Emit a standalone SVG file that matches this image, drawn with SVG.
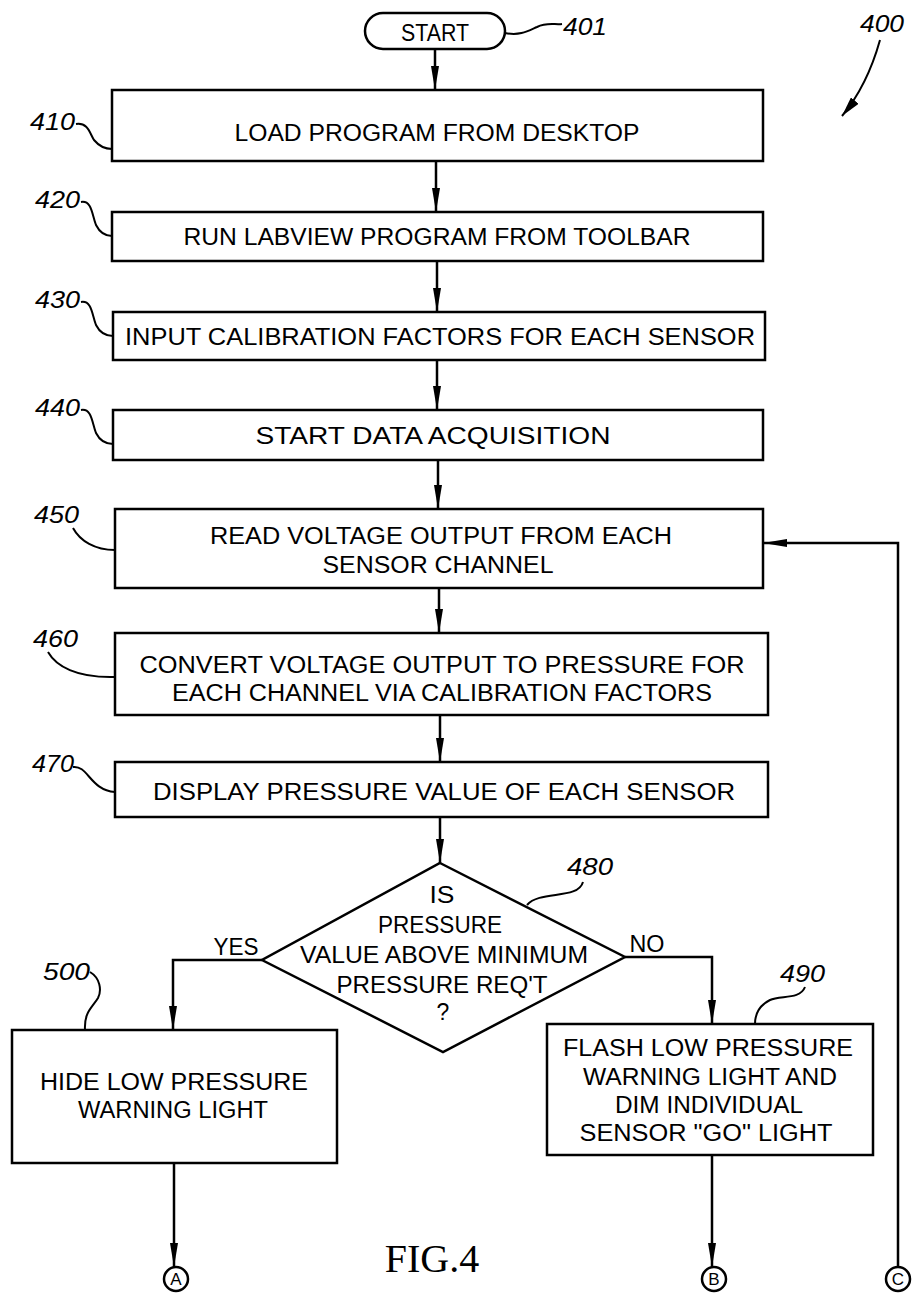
<svg xmlns="http://www.w3.org/2000/svg" width="921" height="1293" viewBox="0 0 921 1293">
<style>
.box{fill:none;stroke:#000;stroke-width:2.5}
.t{font-family:"Liberation Sans",Arial,sans-serif;font-size:23px;fill:#000;text-anchor:middle}
.lbl{font-family:"Liberation Sans",Arial,sans-serif;font-size:24px;font-style:italic;fill:#000}
.ld{fill:none;stroke:#000;stroke-width:2}
.c{fill:none;stroke:#000;stroke-width:2.5}
.cl{font-family:"Liberation Sans",Arial,sans-serif;font-size:17px;fill:#000;text-anchor:middle}
</style>
<defs>
<marker id="ah" viewBox="0 0 24 8" refX="24" refY="4" markerWidth="24" markerHeight="8" markerUnits="userSpaceOnUse" orient="auto">
<path d="M0,0 L24,4 L0,8 z" fill="#000"/>
</marker>
<marker id="ah2" viewBox="0 0 20 10" refX="20" refY="5" markerWidth="20" markerHeight="10" markerUnits="userSpaceOnUse" orient="auto">
<path d="M0,0 L20,5 L0,10 z" fill="#000"/>
</marker>
</defs>
<rect width="921" height="1293" fill="#fff"/>

<g id="n401">
<rect class="box" x="365" y="13" width="140" height="36" rx="18"/>
<text class="t" x="435" y="41" textLength="68" lengthAdjust="spacingAndGlyphs">START</text>
<path class="ld" d="M505,33 C520,36 528,31 537,27 C547,22 555,25 562,24"/>
<text class="lbl" x="563" y="35" textLength="44" lengthAdjust="spacingAndGlyphs">401</text>
</g>

<g id="n400">
<text class="lbl" x="860" y="32" textLength="44" lengthAdjust="spacingAndGlyphs">400</text>
<path class="ld" d="M880,40 C873,65 862,92 842,116" marker-end="url(#ah2)"/>
</g>

<g id="n410">
<rect class="box" x="112" y="90" width="651" height="71"/>
<text class="t" x="437" y="141" textLength="405" lengthAdjust="spacingAndGlyphs">LOAD PROGRAM FROM DESKTOP</text>
<text class="lbl" x="30" y="130" textLength="45" lengthAdjust="spacingAndGlyphs">410</text>
<path class="ld" d="M76,124 C88,122 90,134 94,140 C99,146 104,149 112,149"/>
</g>

<g id="n420">
<rect class="box" x="112" y="212" width="651" height="49"/>
<text class="t" x="437" y="245" textLength="507" lengthAdjust="spacingAndGlyphs">RUN LABVIEW PROGRAM FROM TOOLBAR</text>
<text class="lbl" x="35" y="208" textLength="45" lengthAdjust="spacingAndGlyphs">420</text>
<path class="ld" d="M81,202 C92,200 92,215 96,225 C100,233 105,236 112,236"/>
</g>

<g id="n430">
<rect class="box" x="113" y="312" width="652" height="48"/>
<text class="t" x="440" y="345" textLength="630" lengthAdjust="spacingAndGlyphs">INPUT CALIBRATION FACTORS FOR EACH SENSOR</text>
<text class="lbl" x="35" y="308" textLength="45" lengthAdjust="spacingAndGlyphs">430</text>
<path class="ld" d="M81,302 C92,300 92,315 96,325 C100,333 105,336 113,336"/>
</g>

<g id="n440">
<rect class="box" x="113" y="410" width="650" height="50"/>
<text class="t" x="433" y="444" textLength="355" lengthAdjust="spacingAndGlyphs">START DATA ACQUISITION</text>
<text class="lbl" x="35" y="416" textLength="45" lengthAdjust="spacingAndGlyphs">440</text>
<path class="ld" d="M81,410 C92,408 92,423 96,433 C100,441 105,444 113,444"/>
</g>

<g id="n450">
<rect class="box" x="115" y="509" width="648" height="79"/>
<text class="t" x="441" y="544" textLength="462" lengthAdjust="spacingAndGlyphs">READ VOLTAGE OUTPUT FROM EACH</text>
<text class="t" x="438" y="573" textLength="231" lengthAdjust="spacingAndGlyphs">SENSOR CHANNEL</text>
<text class="lbl" x="34" y="523" textLength="45" lengthAdjust="spacingAndGlyphs">450</text>
<path class="ld" d="M73,528 C80,541 95,550 115,550"/>
</g>

<g id="n460">
<rect class="box" x="115" y="633" width="653" height="82"/>
<text class="t" x="442" y="673" textLength="605" lengthAdjust="spacingAndGlyphs">CONVERT VOLTAGE OUTPUT TO PRESSURE FOR</text>
<text class="t" x="442" y="701" textLength="540" lengthAdjust="spacingAndGlyphs">EACH CHANNEL VIA CALIBRATION FACTORS</text>
<text class="lbl" x="33" y="647" textLength="45" lengthAdjust="spacingAndGlyphs">460</text>
<path class="ld" d="M48,652 C56,666 76,678 115,677"/>
</g>

<g id="n470">
<rect class="box" x="115" y="762" width="653" height="55"/>
<text class="t" x="444" y="800" textLength="582" lengthAdjust="spacingAndGlyphs">DISPLAY PRESSURE VALUE OF EACH SENSOR</text>
<text class="lbl" x="32" y="772" textLength="42" lengthAdjust="spacingAndGlyphs">470</text>
<path class="ld" d="M73,767 C88,765 90,790 115,792"/>
</g>

<g id="n480">
<polygon class="box" points="440,863 625,957 443,1052 262,960"/>
<text class="t" x="442" y="903" textLength="25" lengthAdjust="spacingAndGlyphs">IS</text>
<text class="t" x="440" y="933" textLength="124" lengthAdjust="spacingAndGlyphs">PRESSURE</text>
<text class="t" x="444" y="963" textLength="288" lengthAdjust="spacingAndGlyphs">VALUE ABOVE MINIMUM</text>
<text class="t" x="442" y="993" textLength="211" lengthAdjust="spacingAndGlyphs">PRESSURE REQ'T</text>
<text class="t" x="443" y="1020">?</text>
<text class="lbl" x="567" y="875" textLength="46" lengthAdjust="spacingAndGlyphs">480</text>
<path class="ld" d="M583,882 C578,900 540,890 527,905"/>
</g>

<g id="n500">
<rect class="box" x="12" y="1030" width="325" height="133"/>
<text class="t" x="174" y="1090" textLength="268" lengthAdjust="spacingAndGlyphs">HIDE LOW PRESSURE</text>
<text class="t" x="173" y="1118" textLength="190" lengthAdjust="spacingAndGlyphs">WARNING LIGHT</text>
<text class="lbl" x="43" y="980" textLength="47" lengthAdjust="spacingAndGlyphs">500</text>
<path class="ld" d="M90,972 C100,978 102,990 98,998 C92,1008 84,1012 85,1030"/>
</g>

<g id="n490">
<rect class="box" x="547" y="1024" width="326" height="131"/>
<text class="t" x="708" y="1056" textLength="290" lengthAdjust="spacingAndGlyphs">FLASH LOW PRESSURE</text>
<text class="t" x="710" y="1085" textLength="254" lengthAdjust="spacingAndGlyphs">WARNING LIGHT AND</text>
<text class="t" x="709" y="1113" textLength="188" lengthAdjust="spacingAndGlyphs">DIM INDIVIDUAL</text>
<text class="t" x="706" y="1141" textLength="253" lengthAdjust="spacingAndGlyphs">SENSOR "GO" LIGHT</text>
<text class="lbl" x="780" y="982" textLength="45" lengthAdjust="spacingAndGlyphs">490</text>
<path class="ld" d="M805,987 C800,1000 780,995 770,1000 C758,1006 755,1015 755,1024"/>
</g>

<g id="connA">
<circle class="box" cx="176" cy="1279" r="12"/>
<text class="cl" x="176" y="1285">A</text>
</g>
<g id="connB">
<circle class="box" cx="714" cy="1279" r="12"/>
<text class="cl" x="714" y="1285">B</text>
</g>
<g id="connC">
<circle class="box" cx="898" cy="1279" r="12"/>
<text class="cl" x="898" y="1285">C</text>
</g>

<g id="caption">
<text x="432" y="1272" font-family="Liberation Serif, 'Times New Roman', serif" font-size="40" text-anchor="middle" fill="#000">FIG.4</text>
</g>

<g id="connectors">
<path class="c" d="M435,49 V90" marker-end="url(#ah)"/>
<path class="c" d="M436,161 V212" marker-end="url(#ah)"/>
<path class="c" d="M437,261 V312" marker-end="url(#ah)"/>
<path class="c" d="M437,360 V410" marker-end="url(#ah)"/>
<path class="c" d="M438,460 V509" marker-end="url(#ah)"/>
<path class="c" d="M439,588 V633" marker-end="url(#ah)"/>
<path class="c" d="M440,715 V762" marker-end="url(#ah)"/>
<path class="c" d="M440,817 V863" marker-end="url(#ah)"/>
<path class="c" d="M262,960 H173 V1030" marker-end="url(#ah)"/>
<text class="t" x="236" y="955" textLength="45" lengthAdjust="spacingAndGlyphs">YES</text>
<path class="c" d="M625,957 H712 V1024" marker-end="url(#ah)"/>
<text class="t" x="647" y="952" textLength="35" lengthAdjust="spacingAndGlyphs">NO</text>
<path class="c" d="M174,1163 V1267" marker-end="url(#ah)"/>
<path class="c" d="M712,1155 V1267" marker-end="url(#ah)"/>
<path class="c" d="M898,1267 V543 H763" marker-end="url(#ah)"/>
</g>
</svg>
